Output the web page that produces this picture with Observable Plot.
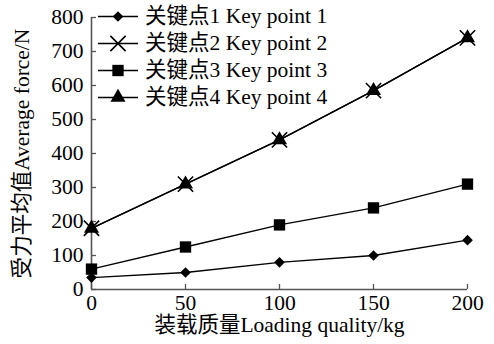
<!DOCTYPE html>
<html><head><meta charset="utf-8">
<script src="https://cdn.jsdelivr.net/npm/d3@7"></script>
<script src="https://cdn.jsdelivr.net/npm/@observablehq/plot@0.6"></script>
<style>
body{margin:0;background:#fff;}
#wrap{position:relative;width:494px;height:344px;font-family:"Liberation Serif","Noto Sans CJK SC",serif;}
#legend{position:absolute;left:97px;top:3px;font-size:21.5px;line-height:27px;color:#000;}
#legend .row{display:flex;align-items:center;height:27px;}
#legend svg{margin-right:6px;}
</style></head>
<body><div id="wrap"><div id="legend"></div></div>
<script>
const loads = [0, 50, 100, 150, 200];
const kp1 = [35, 50, 80, 100, 145];
const kp2 = [180, 310, 440, 585, 740];
const kp3 = [60, 125, 190, 240, 310];
const kp4 = [180, 310, 440, 585, 740];
const seriesNames = ["关键点1 Key point 1", "关键点2 Key point 2", "关键点3 Key point 3", "关键点4 Key point 4"];
const seriesValues = [kp1, kp2, kp3, kp4];
const symbols = ["diamond2", "times", "square", "triangle"];
const radii = [4.8, 7, 6.4, 5.6];
const filled = [true, false, true, true];
const yTicks = [0, 100, 200, 300, 400, 500, 600, 700, 800];
const xTicks = [0, 50, 100, 150, 200];
const xLabel = "装载质量Loading quality/kg";
const yLabel = "受力平均值Average force/N";

const font = '"Liberation Serif","Noto Sans CJK SC",serif';
const data = [];
seriesNames.forEach((s, i) => loads.forEach((x, j) => data.push({s, x, y: seriesValues[i][j], i})));

const dotMarks = seriesNames.map((s, i) => Plot.dot(data.filter(d => d.i === i), {
  x: "x", y: "y", symbol: () => symbols[i], r: radii[i],
  fill: filled[i] ? "black" : "none", stroke: filled[i] ? "none" : "black", strokeWidth: 1.6
}));

const chart = Plot.plot({
  width: 494, height: 344,
  marginLeft: 91, marginRight: 27, marginTop: 17, marginBottom: 55,
  style: {fontFamily: font, fontSize: "21px", color: "black", background: "white"},
  x: {domain: [0, 200]},
  y: {domain: [0, 800]},
  symbol: {type: "identity"},
  marks: [
    Plot.axisY(yTicks, {tickSize: -5, tickPadding: 13, stroke: "#555", strokeWidth: 1.3, fontSize: 21.5, fill: "black", label: null}),
    Plot.axisX(xTicks, {tickSize: -5, tickPadding: 10, stroke: "#555", strokeWidth: 1.3, fontSize: 21.5, fill: "black", label: null}),
    Plot.ruleX([0], {stroke: "#555", strokeWidth: 1.6}),
    Plot.ruleY([0], {stroke: "#555", strokeWidth: 1.6}),
    Plot.line(data, {x: "x", y: "y", z: "s", stroke: "black", strokeWidth: 1.3}),
    ...dotMarks,
    Plot.text([yLabel], {text: d => d, frameAnchor: "left", rotate: -90, dx: -69, lineAnchor: "middle", textAnchor: "middle", fontSize: 21.5, fill: "black"}),
    Plot.text([xLabel], {text: d => d, frameAnchor: "bottom", dy: 36, lineAnchor: "middle", textAnchor: "middle", fontSize: 21.5, fill: "black"})
  ]
});
document.getElementById("wrap").prepend(chart);

const legend = document.getElementById("legend");
const symMap = {diamond2: d3.symbolDiamond2, times: d3.symbolTimes, square: d3.symbolSquare, triangle: d3.symbolTriangle};
seriesNames.forEach((s, i) => {
  const row = document.createElement("div");
  row.className = "row";
  const svg = d3.create("svg").attr("width", 42).attr("height", 27);
  svg.append("line").attr("x1", 1).attr("x2", 41).attr("y1", 13.5).attr("y2", 13.5).attr("stroke", "black").attr("stroke-width", 1.3);
  svg.append("path").attr("transform", "translate(21,13.5)")
    .attr("d", d3.symbol(symMap[symbols[i]], Math.PI * radii[i] * radii[i])())
    .attr("fill", filled[i] ? "black" : "none").attr("stroke", filled[i] ? "none" : "black").attr("stroke-width", 1.6);
  row.appendChild(svg.node());
  const t = document.createElement("span");
  t.textContent = s;
  row.appendChild(t);
  legend.appendChild(row);
});
document.getElementById("wrap").querySelector("svg").style.position = "absolute";
</script></body></html>
